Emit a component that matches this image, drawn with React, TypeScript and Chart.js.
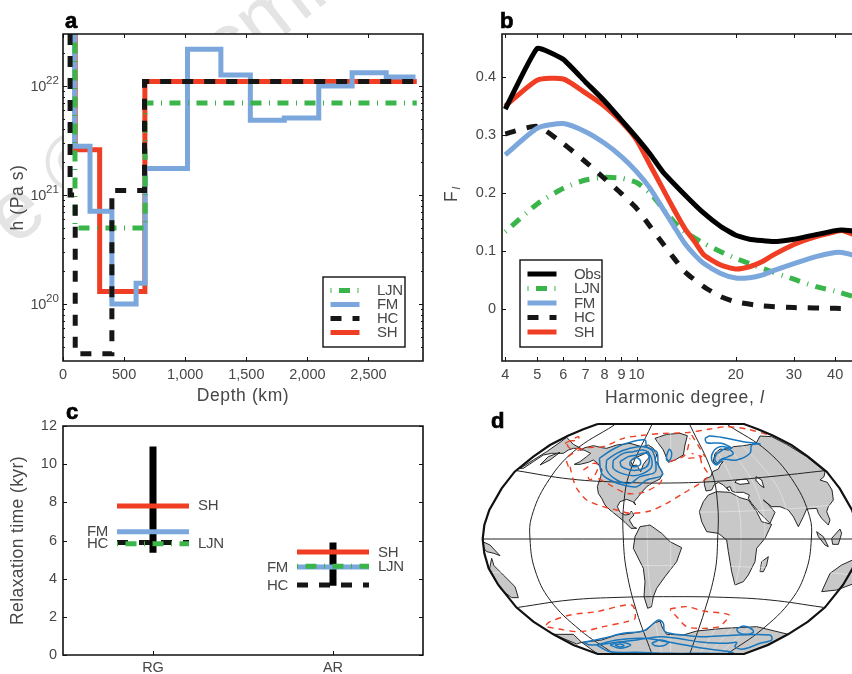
import { useEffect, useRef } from 'react';
import { Chart, registerables } from 'chart.js';

Chart.register(...registerables);

const FONT = '"Liberation Sans", Arial, sans-serif';
const INK = '#474747';
const RED = '#ef3e23';
const BLUE = '#7ba7dc';
const GREEN = '#39b54a';
const BLACK = '#161616';
const CONTOUR = '#1877bd';
const LAND = '#c8c8c8';
const DASH_HC = [11, 11];
const DASH_LJN = [1, 7.5, 11, 7.5];

/* ---------- panel a: viscosity profiles ---------- */
const depthTicks = [0, 500, 1000, 1500, 2000, 2500];
const viscMajor = [1e20, 1e21, 1e22];
const viscMinor = [4e19, 5e19, 6e19, 7e19, 8e19, 9e19, 2e20, 3e20, 4e20, 5e20, 6e20, 7e20, 8e20, 9e20, 2e21, 3e21, 4e21, 5e21, 6e21, 7e21, 8e21, 9e21, 2e22];
const viscExponents = ['20', '21', '22'];
const shDepth = [100, 100, 300, 300, 670, 670, 2895];
const shVisc = [3e22, 2.6e21, 2.6e21, 1.3e20, 1.3e20, 1.1e22, 1.1e22];
const fmDepth = [95, 95, 221, 221, 400, 400, 598, 598, 672, 672, 1019, 1019, 1292, 1292, 1533, 1533, 1811, 1811, 2093, 2093, 2366, 2366, 2645, 2645, 2885];
const fmVisc = [3e22, 2.8e21, 2.8e21, 7.1e20, 7.1e20, 1e20, 1e20, 1.55e20, 1.55e20, 1.75e21, 1.75e21, 2.17e22, 2.17e22, 1.26e22, 1.26e22, 4.84e21, 4.84e21, 5.08e21, 5.08e21, 1e22, 1e22, 1.32e22, 1.32e22, 1.21e22, 1.21e22];
const ljnDepth = [98, 98, 672, 672, 2895];
const ljnVisc = [3e22, 4.98e20, 4.98e20, 6.98e21, 6.98e21];
const hcDepth = [58, 58, 100, 100, 400, 400, 667, 667, 2895];
const hcVisc = [3e22, 1e21, 1e21, 3.5e19, 3.5e19, 1.1e21, 1.1e21, 1.1e22, 1.1e22];

/* ---------- panel b: harmonic spectra ---------- */
const degreeTicks = [4, 5, 6, 7, 8, 9, 10, 20, 30, 40];
const fTicks = [0, 0.1, 0.2, 0.3, 0.4];
const obsDeg = [4, 5, 6, 7, 8, 9, 10, 11, 12, 14, 16, 18, 20, 22, 26, 30, 35, 40, 42, 46];
const obsF = [0.345, 0.45, 0.431, 0.392, 0.359, 0.326, 0.296, 0.267, 0.237, 0.197, 0.165, 0.142, 0.127, 0.12, 0.116, 0.12, 0.128, 0.135, 0.136, 0.134];
const shDeg = [4, 5, 6, 7, 8, 9, 10, 11, 12, 13, 14, 15, 16, 18, 20, 22, 24, 26, 30, 35, 40, 42, 46];
const shF = [0.35, 0.395, 0.397, 0.373, 0.35, 0.323, 0.292, 0.248, 0.208, 0.171, 0.139, 0.116, 0.093, 0.0755, 0.0685, 0.0725, 0.081, 0.093, 0.111, 0.1245, 0.133, 0.135, 0.127];
const fmDeg = [4, 5, 6, 7, 8, 9, 10, 11, 12, 13, 14, 15, 16, 18, 20, 22, 24, 26, 30, 35, 40, 42, 46];
const fmF = [0.266, 0.312, 0.32, 0.306, 0.286, 0.263, 0.237, 0.208, 0.1735, 0.142, 0.113, 0.093, 0.078, 0.061, 0.053, 0.0536, 0.058, 0.0657, 0.078, 0.09, 0.097, 0.097, 0.092];
const ljnDeg = [4, 5, 6, 7, 8, 9, 10, 11, 12, 13, 14, 16, 18, 20, 24, 30, 35, 40, 46];
const ljnF = [0.133, 0.181, 0.208, 0.2225, 0.227, 0.2255, 0.218, 0.2, 0.1735, 0.15, 0.133, 0.113, 0.0985, 0.087, 0.07, 0.051, 0.038, 0.0305, 0.02];
const hcDeg = [4, 5, 6, 7, 8, 9, 10, 11, 12, 13, 14, 16, 18, 20, 24, 30, 40, 46];
const hcF = [0.302, 0.315, 0.285, 0.254, 0.225, 0.199, 0.1735, 0.142, 0.113, 0.087, 0.064, 0.038, 0.021, 0.012, 0.005, 0.002, 0.0006, 0];

/* ---------- panel c: relaxation times ---------- */
const regions = ['RG', 'AR'];
const relaxTicks = [0, 2, 4, 6, 8, 10, 12];
const shRelax = [7.81, 5.4];
const fmRelax = [6.46, 4.61];
const hcRelax = [5.89, 3.67];
const ljnRelax = [5.83, 4.65];
const obsRelaxLow = [5.36, 3.63];
const obsRelaxHigh = [10.92, 5.89];
const relaxNames = [
  { text: 'SH', x: 0.25, y: 7.8, align: 'left' },
  { text: 'FM', x: -0.25, y: 6.45, align: 'right' },
  { text: 'HC', x: -0.25, y: 5.85, align: 'right' },
  { text: 'LJN', x: 0.25, y: 5.85, align: 'left' },
  { text: 'SH', x: 1.25, y: 5.35, align: 'left' },
  { text: 'LJN', x: 1.25, y: 4.62, align: 'left' },
  { text: 'FM', x: 0.75, y: 4.57, align: 'right' },
  { text: 'HC', x: 0.75, y: 3.63, align: 'right' },
];

/* ---------- panel d: map, in map units ---------- */
const northAmerica = [[313,178],[330,170],[350,155],[362,145],[342,135],[330,135],[345,128],[370,122],[395,128],[410,130],[440,120],[480,115],[515,125],[535,120],[550,130],[560,150],[555,165],[565,180],[578,205],[570,222],[550,232],[530,245],[515,262],[505,275],[492,290],[497,300],[488,290],[470,283],[450,290],[442,305],[450,322],[465,330],[478,328],[484,318],[492,330],[478,345],[490,365],[500,370],[483,370],[465,352],[445,335],[420,315],[405,300],[395,280],[385,265],[382,245],[392,215],[396,195],[383,175],[370,165],[355,172],[330,178],[313,178]];
const hudsonBay = [[482,168],[497,158],[520,148],[535,140],[540,155],[530,165],[520,178],[512,200],[505,188],[500,180],[488,182],[482,168]];
const eastSiberia = [[150,190],[190,165],[230,140],[270,112],[290,97],[310,118],[332,130],[310,130],[295,135],[280,145],[262,145],[245,145],[220,150],[190,170],[160,190],[150,190]];
const kamchatka = [[210,180],[235,155],[270,142],[240,165],[210,180]];
const greenland = [[555,100],[590,88],[630,85],[652,92],[645,120],[640,150],[615,165],[595,172],[580,135],[565,115],[555,100]];
const eurasia = [[703,238],[703,222],[722,215],[728,200],[745,192],[752,178],[760,170],[745,172],[738,178],[730,168],[735,145],[750,132],[775,135],[790,125],[820,122],[845,118],[860,112],[870,93],[905,95],[950,118],[1010,155],[1065,200],[1062,215],[1050,225],[1072,232],[1086,255],[1090,285],[1075,305],[1070,320],[1080,345],[1075,360],[1055,340],[1045,325],[1040,310],[1010,312],[1000,335],[985,365],[970,335],[955,315],[930,305],[905,305],[880,285],[895,298],[915,322],[900,355],[870,325],[845,295],[835,280],[838,270],[820,262],[795,262],[785,258],[780,245],[770,248],[778,258],[760,240],[745,232],[732,240],[725,255],[708,258],[703,238]];
const blackSea = [[800,225],[830,222],[838,235],[810,238],[795,232],[800,225]];
const caspian = [[858,215],[875,225],[882,248],[870,240],[860,228],[858,215]];
const africa = [[688,320],[700,290],[715,270],[740,260],[780,262],[810,278],[835,285],[860,320],[875,350],[905,358],[885,400],[860,430],[855,470],[835,510],[820,530],[795,540],[785,500],[780,470],[775,440],[770,405],[745,385],[710,380],[695,350],[688,320]];
const madagascar = [[895,455],[890,480],[880,500],[870,500],[875,470],[895,455]];
const southAmerica = [[495,395],[510,365],[540,360],[575,385],[600,410],[635,428],[620,470],[585,515],[560,550],[550,575],[545,605],[533,610],[522,575],[525,530],[520,490],[490,430],[495,395]];
const sumatra = [[1040,380],[1060,395],[1075,425],[1065,420],[1045,395],[1040,380]];
const borneo = [[1110,372],[1115,385],[1105,418],[1088,418],[1085,400],[1110,372]];
const australiaEast = [[65,460],[72,482],[100,510],[135,545],[145,578],[125,578],[95,555],[75,525],[58,495],[65,460]];
const australiaWest = [[1180,450],[1115,480],[1080,505],[1055,560],[1100,555],[1180,525],[1180,450]];
const newGuinea = [[38,410],[60,420],[90,452],[72,445],[50,440],[42,430],[38,410]];
const antarcticaWest = [[250,688],[310,688],[335,712],[320,717],[250,688]];
const antarctica = [[335,712],[395,705],[440,690],[500,682],[530,675],[550,655],[570,648],[578,670],[590,688],[640,690],[680,678],[760,670],[860,665],[955,688],[890,720],[822,747],[383,747],[335,712]];
const lands = [antarctica, antarcticaWest, newGuinea, australiaWest, australiaEast, borneo, sumatra, southAmerica, madagascar, africa, eurasia, greenland, kamchatka, eastSiberia, northAmerica];
const lakes = [hudsonBay, blackSea, caspian];

const mapOutline = [[383,57],[340,73],[294,92],[240,120],[190,155],[134,200],[95,250],[58,315],[43,360],[38,402],[43,445],[56,490],[85,540],[139,607],[190,650],[250,688],[310,720],[383,747],[822,747],[894,720],[954,688],[1014,650],[1065,607],[1119,540],[1148,490],[1161,445],[1166,402],[1161,360],[1146,315],[1109,250],[1070,200],[1014,155],[964,120],[910,92],[864,73],[822,57],[383,57]];
const graticule = [
  [[38,402],[1166,402]],
  [[140,197],[300,222],[460,232],[602,234],[740,229],[900,215],[1065,197]],
  [[145,607],[300,585],[450,577],[602,575],[760,577],[900,585],[1060,607]],
  [[545,60],[480,200],[461,300],[460,402],[470,500],[500,620],[545,745]],
  [[660,60],[725,200],[743,300],[743,402],[735,500],[703,620],[660,745]],
  [[433,60],[310,140],[230,235],[185,335],[180,402],[195,495],[240,585],[330,675],[430,745]],
  [[774,60],[894,140],[974,235],[1019,335],[1024,402],[1009,495],[964,585],[874,675],[774,745]],
];
const fineGraticule = [
  [[60,300],[300,318],[602,322],[900,315],[1146,295]],
  [[60,504],[300,486],[602,482],[900,489],[1146,509]],
  [[690,60],[775,200],[805,300],[813,402],[805,500],[765,620],[690,745]],
  [[720,60],[830,200],[875,300],[884,402],[870,500],[820,620],[720,745]],
  [[750,60],[890,200],[945,300],[954,402],[940,500],[880,620],[750,745]],
  [[575,60],[545,200],[532,300],[532,402],[535,500],[550,620],[575,745]],
  [[602,60],[602,745]],
];
const blueContours = [
  [[388,160],[425,135],[470,115],[525,105],[530,125],[560,140],[565,180],[578,205],[570,215],[530,225],[500,245],[460,240],[420,225],[395,205],[388,160]],
  [[410,165],[440,145],[480,130],[520,125],[545,135],[555,160],[558,195],[550,205],[510,215],[480,235],[440,225],[410,195],[410,165]],
  [[430,165],[460,145],[490,140],[520,135],[540,150],[545,185],[520,205],[490,212],[455,205],[430,190],[430,165]],
  [[450,170],[475,155],[500,150],[530,145],[538,165],[530,185],[505,195],[480,195],[455,185],[450,170]],
  [[480,170],[495,158],[510,165],[510,180],[490,185],[480,180],[480,170]],
  [[590,150],[598,133],[605,145],[600,165],[590,165],[590,150]],
  [[705,100],[720,93],[770,100],[820,110],[870,117],[845,120],[840,145],[800,165],[760,163],[740,180],[725,165],[730,140],[750,125],[785,130],[755,115],[710,113],[705,100]],
  [[750,140],[770,130],[790,145],[775,155],[750,165],[745,175],[735,165],[738,150],[750,140]],
  [[340,712],[400,700],[460,685],[520,678],[545,660],[565,645],[580,655],[585,680],[640,690],[690,695],[760,692],[900,690],[905,705],[870,715],[820,732],[795,725],[800,712],[770,715],[700,712],[620,700],[570,695],[500,705],[440,712],[360,720],[340,712]],
  [[380,720],[440,705],[520,700],[600,712],[700,730],[780,740],[790,745],[700,745],[600,745],[500,742],[420,740],[380,720]],
  [[545,715],[570,705],[595,712],[580,722],[555,722],[545,715]],
  [[420,720],[450,712],[482,720],[450,730],[420,720]],
  [[435,720],[450,717],[462,722],[450,726],[435,720]],
  [[800,672],[820,663],[845,672],[850,682],[825,688],[805,682],[800,672]],
];
const redContours = [
  [[295,185],[290,160],[340,130],[400,125],[460,100],[510,92],[580,85],[650,83],[720,72],[770,65],[830,72],[905,92]],
  [[285,115],[325,95],[325,105],[290,110],[300,130],[330,130]],
  [[300,185],[310,225],[320,250],[350,285],[400,305],[440,315],[480,325],[540,318],[590,295],[640,265],[690,235],[715,212],[695,175],[690,145]],
  [[385,220],[420,240],[470,265],[520,262],[570,235],[578,215]],
  [[340,195],[355,185],[370,175],[385,180],[375,210],[360,225],[350,205]],
  [[655,160],[695,155],[665,145]],
  [[665,90],[690,130],[705,155]],
  [[600,170],[645,150],[660,100]],
  [[228,660],[240,650],[300,630],[380,620],[485,600],[495,640],[470,650],[400,665],[330,680],[265,672],[228,665]],
  [[600,612],[650,605],[700,618],[778,630],[760,655],[750,665],[700,670],[650,665],[620,635],[600,615]],
];

const zip = (xs: number[], ys: number[]) => xs.map((x, i) => ({ x, y: ys[i] }));
const pts = (p: number[][]) => p.map(([x, y]) => ({ x, y }));

const curve = (label: string, data: any[], color: string, dash: number[] = [], tension = 0) => ({
  label, data, borderColor: color, backgroundColor: color, borderWidth: 5, borderDash: dash,
  borderCapStyle: 'butt', borderJoinStyle: 'miter', pointRadius: 0, showLine: true, tension, fill: false,
});

/* Every panel shares this: white plot, frame, inner ticks, letter, legend. */
function decor(cfg: any) {
  return {
    id: 'decor',
    beforeDraw(chart: any) {
      const { ctx, chartArea: a } = chart;
      ctx.letterSpacing = '0px';
      if (cfg.frame !== false) {
        ctx.save();
        ctx.fillStyle = '#fff';
        ctx.fillRect(a.left, a.top, a.right - a.left, a.bottom - a.top);
        ctx.restore();
      }
      Object.values(chart.scales).forEach((s: any) => {
        if (s.options.title.display && !s.__spaced) {
          s.__spaced = true;
          const draw = s.drawTitle;
          s.drawTitle = function (...args: any[]) {
            ctx.letterSpacing = cfg.titleSpacing || '0.6px';
            draw.apply(this, args);
            ctx.letterSpacing = '0px';
          };
        }
      });
    },
    afterDraw(chart: any) {
      const { ctx, chartArea: a, scales } = chart;
      ctx.save();
      if (cfg.frame !== false) {
        ctx.strokeStyle = '#111';
        ctx.lineWidth = 1;
        const tick = (x0: number, y0: number, x1: number, y1: number) => {
          ctx.beginPath(); ctx.moveTo(x0, y0); ctx.lineTo(x1, y1); ctx.stroke();
        };
        (cfg.xTicks || []).forEach((v: number) => {
          const x = Math.round(scales.x.getPixelForValue(v)) + 0.5;
          tick(x, a.bottom, x, a.bottom - 4);
          if (cfg.topTicks) tick(x, a.top, x, a.top + 4);
        });
        (cfg.yTicks || []).forEach((v: number) => {
          const y = Math.round(scales.y.getPixelForValue(v)) + 0.5;
          tick(a.left, y, a.left + 4, y);
          if (cfg.rightTicks) tick(a.right, y, a.right - 4, y);
        });
        (cfg.yMinor || []).forEach((v: number) => {
          const y = Math.round(scales.y.getPixelForValue(v)) + 0.5;
          tick(a.left, y, a.left + 2, y);
          if (cfg.rightTicks) tick(a.right, y, a.right - 2, y);
        });
        ctx.lineWidth = 1.6;
        ctx.beginPath();
        if (cfg.open) {
          ctx.moveTo(a.right, a.top); ctx.lineTo(a.left, a.top); ctx.lineTo(a.left, a.bottom); ctx.lineTo(a.right, a.bottom);
        } else {
          ctx.rect(a.left, a.top, a.right - a.left, a.bottom - a.top);
        }
        ctx.stroke();
      }
      if (cfg.legend) {
        const l = cfg.legend;
        ctx.fillStyle = '#fff';
        ctx.fillRect(l.x, l.y, l.w, l.h);
        ctx.strokeStyle = '#111';
        ctx.lineWidth = 1.4;
        ctx.strokeRect(l.x, l.y, l.w, l.h);
        l.names.forEach((name: string, i: number) => {
          const ds = chart.data.datasets.find((d: any) => d.label === name);
          const y = l.firstY + i * l.rowH;
          ctx.strokeStyle = ds.borderColor;
          ctx.lineWidth = ds.borderWidth;
          ctx.setLineDash(ds.borderDash || []);
          ctx.beginPath(); ctx.moveTo(l.x + 7.5, y); ctx.lineTo(l.x + 36.5, y); ctx.stroke();
          ctx.setLineDash([]);
          ctx.fillStyle = INK;
          ctx.font = `15px ${FONT}`;
          ctx.letterSpacing = '-0.3px';
          ctx.textAlign = 'left';
          ctx.textBaseline = 'middle';
          ctx.fillText(name, l.x + l.textDx, y + 0.5);
        });
      }
      if (cfg.extra) cfg.extra(chart, ctx);
      ctx.letterSpacing = '0px';
      ctx.fillStyle = '#000';
      ctx.strokeStyle = '#000';
      ctx.lineWidth = 0.7;
      ctx.font = `bold 22px ${FONT}`;
      ctx.textAlign = 'left';
      ctx.textBaseline = 'alphabetic';
      ctx.fillText(cfg.letter.text, cfg.letter.x, cfg.letter.y);
      ctx.strokeText(cfg.letter.text, cfg.letter.x, cfg.letter.y);
      ctx.restore();
    },
  };
}

const fixSize = (size: number, prop: 'width' | 'height') => (s: any) => {
  s[prop] = size;
  s.paddingLeft = s.paddingRight = s.paddingTop = s.paddingBottom = 0;
};
const setTicks = (values: number[]) => (s: any) => {
  s.ticks = values.map((value) => ({ value }));
};
const tickFont = { family: FONT, size: 14.5 };
const titleFont = { family: FONT, size: 17.5 };
const noGrid = { display: false, drawTicks: false };

function configA() {
  return {
    type: 'scatter',
    data: {
      datasets: [
        curve('HC', zip(hcDepth, hcVisc), BLACK, DASH_HC),
        curve('LJN', zip(ljnDepth, ljnVisc), GREEN, DASH_LJN),
        curve('FM', zip(fmDepth, fmVisc), BLUE),
        curve('SH', zip(shDepth, shVisc), RED),
      ],
    },
    options: {
      animation: false, responsive: false,
      layout: { padding: { left: 0, top: 34, right: 17, bottom: 0 } },
      plugins: { legend: { display: false }, tooltip: { enabled: false } },
      scales: {
        x: {
          type: 'linear', min: 0, max: 2946,
          grid: noGrid, border: { display: false },
          afterBuildTicks: setTicks(depthTicks), afterFit: fixSize(47, 'height'),
          ticks: { font: tickFont, color: INK, padding: 5, maxRotation: 0, autoSkip: false, callback: (v: number) => v.toLocaleString('en-US') },
          title: { display: true, text: 'Depth (km)', font: titleFont, color: INK, padding: { top: 0, bottom: 1 } },
        },
        y: {
          type: 'logarithmic', min: 3e19, max: 3e22,
          grid: noGrid, border: { display: false },
          afterBuildTicks: setTicks(viscMajor), afterFit: fixSize(63, 'width'),
          ticks: { display: false },
          title: { display: true, text: 'h (Pa s)', font: titleFont, color: INK, padding: { top: 8, bottom: 0 } },
        },
      },
    },
    plugins: [decor({
      letter: { text: 'a', x: 65, y: 28 }, xTicks: depthTicks, topTicks: true, yTicks: viscMajor, yMinor: viscMinor, rightTicks: true,
      legend: { x: 323, y: 277, w: 82, h: 70, firstY: 290.5, rowH: 14, textDx: 54, names: ['LJN', 'FM', 'HC', 'SH'] },
      extra(chart: any, ctx: any) {
        ctx.fillStyle = INK;
        ctx.textBaseline = 'alphabetic';
        viscMajor.forEach((v, i) => {
          const y = chart.scales.y.getPixelForValue(v);
          ctx.textAlign = 'right';
          ctx.letterSpacing = '-0.3px';
          ctx.font = `14.5px ${FONT}`;
          ctx.fillText('10', 46, y + 5);
          ctx.textAlign = 'left';
          ctx.letterSpacing = '0px';
          ctx.font = `11.5px ${FONT}`;
          ctx.fillText(viscExponents[i], 46, y - 2.5);
        });
      },
    })],
  };
}

function configB() {
  return {
    type: 'scatter',
    data: {
      datasets: [
        curve('Obs', zip(obsDeg, obsF), '#000', [], 0.12),
        curve('SH', zip(shDeg, shF), RED, [], 0.2),
        curve('FM', zip(fmDeg, fmF), BLUE, [], 0.2),
        curve('HC', zip(hcDeg, hcF), BLACK, DASH_HC, 0.2),
        curve('LJN', zip(ljnDeg, ljnF), GREEN, DASH_LJN, 0.2),
      ],
    },
    options: {
      animation: false, responsive: false,
      layout: { padding: { left: 0, top: 34, right: 0, bottom: 0 } },
      plugins: { legend: { display: false }, tooltip: { enabled: false } },
      scales: {
        x: {
          type: 'logarithmic', min: 3.91, max: 45,
          grid: noGrid, border: { display: false },
          afterBuildTicks: setTicks(degreeTicks), afterFit: fixSize(49, 'height'),
          ticks: { font: tickFont, color: INK, padding: 5, maxRotation: 0, autoSkip: false, callback: (v: number) => String(v) },
        },
        y: {
          type: 'linear', min: -0.0904, max: 0.4748,
          grid: noGrid, border: { display: false },
          afterBuildTicks: setTicks(fTicks), afterFit: fixSize(62, 'width'),
          ticks: { font: tickFont, color: INK, padding: 6, autoSkip: false, callback: (v: number) => (v === 0 ? '0' : v.toFixed(1)) },
        },
      },
    },
    plugins: [decor({
      letter: { text: 'b', x: 60, y: 28 }, xTicks: degreeTicks, topTicks: true, yTicks: fTicks, open: true,
      legend: { x: 80, y: 260, w: 82, h: 87, firstY: 274, rowH: 14.5, textDx: 54, names: ['Obs', 'LJN', 'FM', 'HC', 'SH'] },
      extra(chart: any, ctx: any) {
        ctx.fillStyle = INK;
        ctx.letterSpacing = '0.65px';
        ctx.font = `17.5px ${FONT}`;
        ctx.textAlign = 'left';
        ctx.textBaseline = 'middle';
        const words = 'Harmonic degree, ';
        ctx.fillText(words, 165, 398);
        const w = ctx.measureText(words).width;
        ctx.font = `italic 17.5px ${FONT}`;
        ctx.fillText('l', 165 + w, 398);
        ctx.save();
        ctx.translate(12, 202);
        ctx.rotate(-Math.PI / 2);
        ctx.letterSpacing = '0px';
        ctx.font = `17.5px ${FONT}`;
        ctx.fillText('F', 0, 0);
        ctx.font = `italic 11px ${FONT}`;
        ctx.fillText('l', 12.5, 5);
        ctx.restore();
      },
    })],
  };
}

function configC() {
  const model = (label: string, values: number[], color: string, dash: number[] = []) =>
    curve(label, [
      { x: -0.2, y: values[0] }, { x: 0.2, y: values[0] }, { x: NaN, y: NaN },
      { x: 0.8, y: values[1] }, { x: 1.2, y: values[1] },
    ], color, dash);
  const observed = {
    ...curve('Observed', [
      { x: 0, y: obsRelaxLow[0] }, { x: 0, y: obsRelaxHigh[0] }, { x: NaN, y: NaN },
      { x: 1, y: obsRelaxLow[1] }, { x: 1, y: obsRelaxHigh[1] },
    ], '#000'),
    borderWidth: 7,
  };
  return {
    type: 'scatter',
    data: {
      datasets: [
        model('LJN', ljnRelax, GREEN, DASH_LJN),
        model('SH', shRelax, RED),
        model('FM', fmRelax, BLUE),
        model('HC', hcRelax, BLACK, DASH_HC),
        observed,
      ],
    },
    options: {
      animation: false, responsive: false,
      layout: { padding: { left: 0, top: 21, right: 17, bottom: 0 } },
      plugins: { legend: { display: false }, tooltip: { enabled: false } },
      scales: {
        x: {
          type: 'linear', min: -0.5, max: 1.5,
          grid: noGrid, border: { display: false },
          afterBuildTicks: setTicks([0, 1]), afterFit: fixSize(19, 'height'),
          ticks: { font: tickFont, color: INK, padding: 4, maxRotation: 0, autoSkip: false, callback: (v: number) => regions[v] },
        },
        y: {
          type: 'linear', min: 0, max: 12,
          grid: noGrid, border: { display: false },
          afterBuildTicks: setTicks(relaxTicks), afterFit: fixSize(63, 'width'),
          ticks: { font: tickFont, color: INK, padding: 6, autoSkip: false, callback: (v: number) => String(v) },
          title: { display: true, text: 'Relaxation time (kyr)', font: titleFont, color: INK, padding: { top: 8, bottom: 0 } },
        },
      },
    },
    plugins: [decor({
      letter: { text: 'c', x: 66, y: 14 }, xTicks: [0, 1], yTicks: relaxTicks, rightTicks: true, titleSpacing: '0.4px',
      extra(chart: any, ctx: any) {
        ctx.fillStyle = INK;
        ctx.letterSpacing = '-0.3px';
        ctx.font = `15px ${FONT}`;
        ctx.textBaseline = 'middle';
        relaxNames.forEach((n) => {
          ctx.textAlign = n.align;
          ctx.fillText(n.text, chart.scales.x.getPixelForValue(n.x), chart.scales.y.getPixelForValue(n.y));
        });
      },
    })],
  };
}

function configD() {
  const mapLine = (data: number[][], color: string, width: number, dash: number[] = [], tension = 0) =>
    ({ ...curve('', pts(data), color, dash, tension), borderWidth: width, clip: 0 });
  const polygon = (data: number[][], fill: string) =>
    ({ ...mapLine(data, '#111', 0.9), backgroundColor: fill, fill: 'shape', borderJoinStyle: 'round' });
  return {
    type: 'scatter',
    data: {
      datasets: [
        mapLine(mapOutline, '#111', 2.2, [], 0),
        ...blueContours.map((c) => ({ ...mapLine(c, CONTOUR, 1.5, [], 0.35), borderJoinStyle: 'round' })),
        ...redContours.map((c) => mapLine(c, RED, 1.4, [6, 5], 0.3)),
        ...graticule.map((g) => mapLine(g, '#222', 1, [], 0.4)),
        ...fineGraticule.map((g) => mapLine(g, 'rgba(255,255,255,0.55)', 0.7, [], 0.4)),
        ...lakes.map((p) => polygon(p, '#fff')),
        ...lands.map((p) => polygon(p, LAND)),
      ],
    },
    options: {
      animation: false, responsive: false,
      layout: { padding: 0 },
      plugins: { legend: { display: false }, tooltip: { enabled: false } },
      scales: {
        x: { type: 'linear', min: 0, max: 1146, display: false },
        y: { type: 'linear', min: 0, max: 807, reverse: true, display: false },
      },
    },
    plugins: [decor({ frame: false, letter: { text: 'd', x: 21, y: 23 } })],
  };
}

function Panel({ x, y, w, h, make }: any) {
  const ref = useRef<HTMLCanvasElement>(null);
  useEffect(() => {
    const chart = new Chart(ref.current as any, make());
    return () => chart.destroy();
  }, [make]);
  return <canvas ref={ref} width={w} height={h} style={{ position: 'absolute', left: x, top: y, width: w, height: h, display: 'block' }} />;
}

export default function App() {
  return (
    <div style={{ position: 'absolute', left: 0, top: 0, width: 852, height: 674, overflow: 'hidden', background: '#fff' }}>
      <div style={{ position: 'absolute', left: -4, top: 176, whiteSpace: 'nowrap', fontFamily: FONT, fontSize: 84, color: '#e4e4e4', transform: 'rotate(-38deg)', transformOrigin: '0 50%' }}>
        e © Macmillan
      </div>
      <Panel x={0} y={0} w={440} h={408} make={configA} />
      <Panel x={440} y={0} w={412} h={410} make={configB} />
      <Panel x={0} y={405} w={440} h={269} make={configC} />
      <Panel x={470} y={405} w={382} h={269} make={configD} />
    </div>
  );
}
